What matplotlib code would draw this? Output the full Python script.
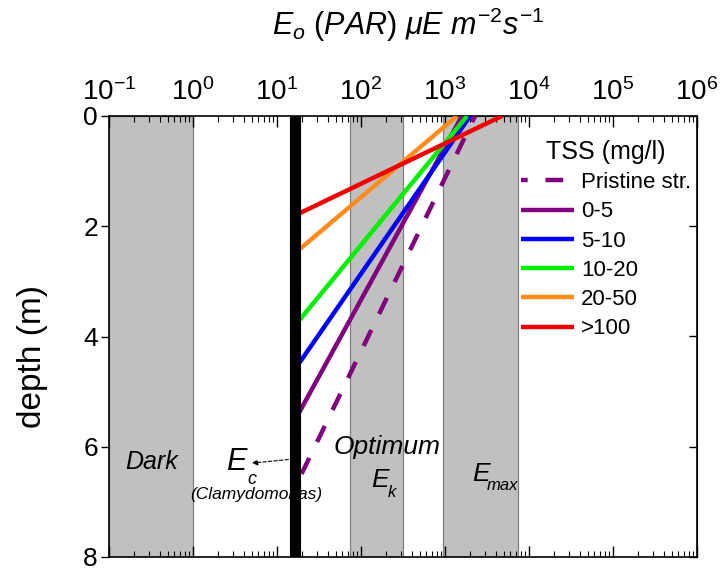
import matplotlib
matplotlib.use("Agg")
import matplotlib.pyplot as plt
import numpy as np

plt.rcParams['font.family'] = ['Liberation Sans', 'DejaVu Sans']
plt.rcParams['mathtext.fontset'] = 'custom'
plt.rcParams['mathtext.rm'] = 'Liberation Sans'
plt.rcParams['mathtext.it'] = 'Liberation Sans:italic'
plt.rcParams['mathtext.bf'] = 'Liberation Sans:bold'
plt.rcParams['axes.unicode_minus'] = False

# ---- data ----
series_labels = ["Pristine str.", "0-5", "5-10", "10-20", "20-50", ">100"]
surface_E = [2280, 1590, 1990, 1830, 1390, 4780]     # E at depth 0 (uE m-2 s-1)
depth_at_Ec = [6.72, 5.50, 4.58, 3.79, 2.48, 1.80]   # depth where E reaches Ec (m)
Ec = 16.6
band_dark = (0.1, 1.0)
band_optimum = (74, 316)
band_emax = (950, 7400)
depth_ticks = [0, 2, 4, 6, 8]
series_colors = ["#800080", "#800080", "#0000FF", "#00F000", "#FF8C1A", "#F00000"]
series_styles = ["--", "-", "-", "-", "-", "-"]

fig = plt.figure(figsize=(7.22, 5.71), dpi=100)
ax = fig.add_axes([109/722, 1-557/571, 588/722, 441/571])
ax.set_xscale('log')
ax.set_xlim(0.1, 1e6)
ax.set_ylim(8, 0)

for lo, hi in (band_dark, band_optimum, band_emax):
    ax.axvspan(lo, hi, facecolor='#c0c0c0', edgecolor='#808080', lw=0.9, zorder=1)

for lab, e0, zd, c, ls in zip(series_labels, surface_E, depth_at_Ec, series_colors, series_styles):
    if ls == '--':
        ax.plot([e0, Ec], [0, zd], color=c, lw=3.2, ls=(2.5, (4, 4)), label=lab, zorder=3,
                dash_capstyle='butt')
    else:
        ax.plot([e0, Ec], [0, zd], color=c, lw=3.2, ls='-', label=lab, zorder=3,
                solid_capstyle='butt')

ax.plot([Ec, Ec], [0, 8], color='black', lw=8, zorder=4, solid_capstyle='butt')

ax.tick_params(axis='x', which='both', top=True, bottom=True, labeltop=True,
               labelbottom=False, direction='in', labelsize=20, pad=7)
ax.tick_params(axis='x', which='major', length=8, width=1)
ax.tick_params(axis='x', which='minor', length=4, width=0.8)
ax.set_xticks([10.0**k for k in range(-1, 7)])
ax.set_yticks(depth_ticks)
ax.tick_params(axis='y', which='major', left=True, right=False, direction='out',
               length=6, width=1, labelsize=19, pad=2)
sec = ax.secondary_yaxis('right')
sec.set_yticks(depth_ticks)
sec.tick_params(direction='in', length=6, width=1, labelright=False)

for s in ax.spines.values():
    s.set_linewidth(1.2)

fig.text(408/722, 1-35/571, r'$\mathit{E_o}$ $\mathit{(PAR)}$ $\mathit{\mu E}$ $\mathit{m^{-2}s^{-1}}$',
         ha='center', va='baseline', fontsize=22)
fig.text(32/722, 1-357/571, 'depth (m)', rotation=90, ha='center', va='center', fontsize=24)

# annotations (axes-fraction positions)
T = ax.transAxes
kw = dict(style='italic', ha='center', va='center', zorder=5, transform=T)
ax.text(0.073, 0.215, 'Dark', fontsize=18, **kw)
ax.text(0.216, 0.215, 'E', fontsize=22, **kw)
ax.text(0.2425, 0.175, 'c', fontsize=13, **kw)
ax.text(0.25, 0.141, '(Clamydomonas)', fontsize=12.5, **kw)
ax.text(0.473, 0.249, 'Optimum', fontsize=19, **kw)
ax.text(0.461, 0.175, 'E', fontsize=19, **kw)
ax.text(0.481, 0.147, 'k', fontsize=12, **kw)
ax.text(0.632, 0.188, 'E', fontsize=19, **kw)
ax.text(0.670, 0.161, 'max', fontsize=12, **kw)
ax.annotate('', xy=(0.243, 0.213), xytext=(0.305, 0.221), xycoords=T, textcoords=T,
            arrowprops=dict(arrowstyle='-|>', linestyle=(0, (3, 2)), lw=0.8, color='black',
                            mutation_scale=8, shrinkA=0, shrinkB=0), zorder=5)

leg = ax.legend(loc='upper left', bbox_to_anchor=(521/722, 1-140/571), bbox_transform=fig.transFigure,
                frameon=False, fontsize=16, title='TSS (mg/l)', title_fontsize=18,
                handlelength=2.4, handletextpad=0.3, labelspacing=0.37, borderpad=0, borderaxespad=0)

fig.savefig('out.png', dpi=100)
